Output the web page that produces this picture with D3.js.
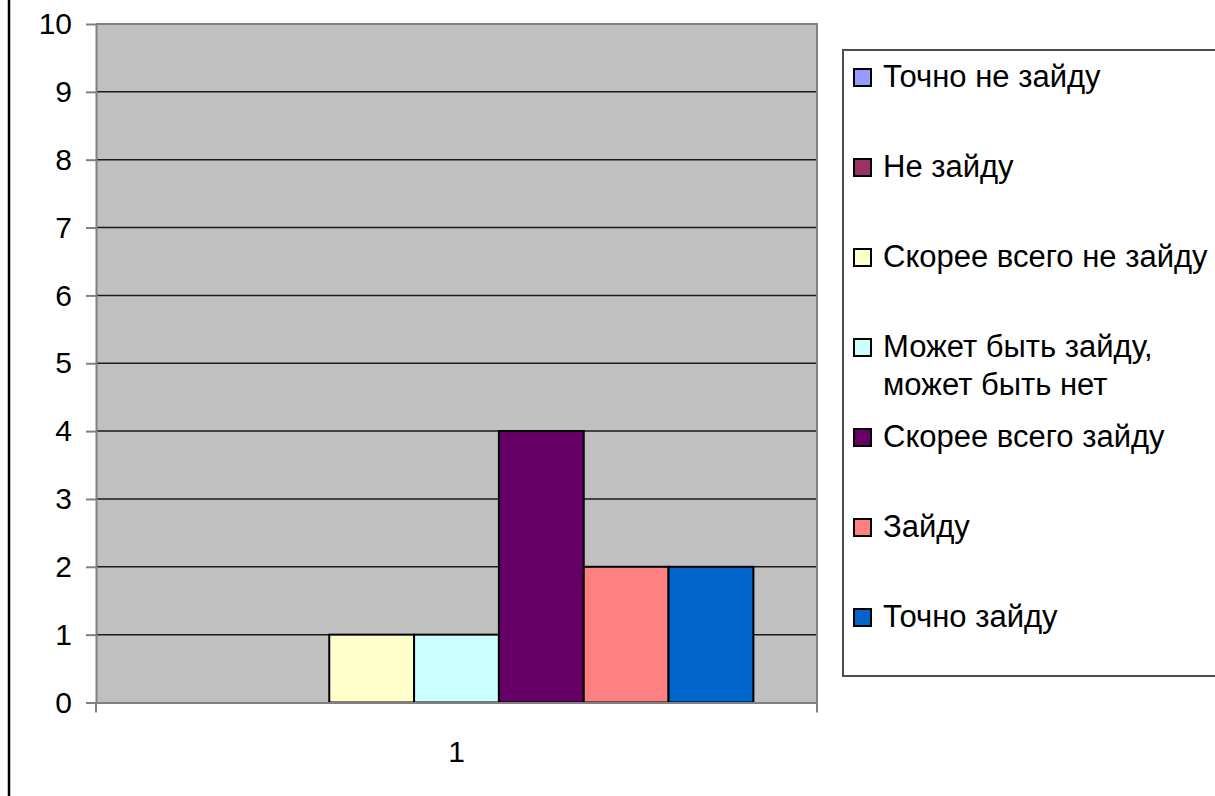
<!DOCTYPE html>
<html>
<head>
<meta charset="utf-8">
<script src="https://cdnjs.cloudflare.com/ajax/libs/d3/7.8.5/d3.min.js"></script>
<style>
    body { margin: 0; background: #fff; overflow: hidden; }
    svg { display: block; font-family: "Liberation Sans", Arial, sans-serif; }
    .axis text { font-size: 30px; fill: #000; }
    .axis path, .axis line { stroke: #808080; stroke-width: 2px; }
    .legend text { font-size: 31px; fill: #000; }
</style>
</head>
<body>
<div id="chart"></div>
<script>
// Data
var categories = ["1"];
var seriesNames = [
    "Точно не зайду",
    "Не зайду",
    "Скорее всего не зайду",
    "Может быть зайду,|может быть нет",
    "Скорее всего зайду",
    "Зайду",
    "Точно зайду"
];
var seriesValues = [0, 0, 1, 1, 4, 2, 2];
var seriesColors = ["#9999FF", "#993366", "#FFFFCC", "#CCFFFF", "#660066", "#FF8080", "#0066CC"];
var yTicks = [0, 1, 2, 3, 4, 5, 6, 7, 8, 9, 10];

var width = 1215, height = 796;
var plot = {left: 96, top: 24, right: 817, bottom: 702.5};

var svg = d3.select("#chart").append("svg")
    .attr("width", width)
    .attr("height", height);

// chart area border (only left edge shows)
svg.append("line")
    .attr("x1", 9).attr("x2", 9)
    .attr("y1", 0).attr("y2", height)
    .style("stroke", "#000")
    .style("stroke-width", 2.5);

// Scales (Excel gap width 150%)
var gap = 1.5 / (seriesNames.length + 1.5);
var x0 = d3.scaleBand().domain(categories).range([plot.left, plot.right])
    .paddingInner(gap).paddingOuter(gap / 2);
var x1 = d3.scaleBand().domain(d3.range(seriesNames.length)).range([0, x0.bandwidth()]);
var y = d3.scaleLinear().domain([0, 10]).range([plot.bottom, plot.top]);

// Plot area
svg.append("rect")
    .attr("x", plot.left).attr("y", plot.top)
    .attr("width", plot.right - plot.left)
    .attr("height", plot.bottom - plot.top)
    .style("fill", "#C0C0C0");

// gridlines
svg.append("g").selectAll("line")
    .data(yTicks.slice(1))
    .enter().append("line")
    .attr("x1", plot.left).attr("x2", plot.right)
    .attr("y1", function (d) { return y(d); })
    .attr("y2", function (d) { return y(d); })
    .style("stroke", "#1a1a1a")
    .style("stroke-width", 1.5);

// right + top border of plot area
svg.append("path")
    .attr("d", "M" + plot.left + "," + plot.top + "H" + plot.right + "V" + plot.bottom)
    .style("fill", "none")
    .style("stroke", "#808080")
    .style("stroke-width", 2);

// Bars
svg.append("g").selectAll("rect")
    .data(seriesValues)
    .enter().append("rect")
    .attr("x", function (d, i) { return x0(categories[0]) + x1(i); })
    .attr("y", function (d) { return y(d); })
    .attr("width", x1.bandwidth())
    .attr("height", function (d) { return y(0) - y(d); })
    .style("fill", function (d, i) { return seriesColors[i]; })
    .style("stroke", function (d) { return d > 0 ? "#000" : "none"; })
    .style("stroke-width", 2);

// Axes
var yAxis = d3.axisLeft(y).tickValues(yTicks).tickSize(10).tickPadding(14).tickSizeOuter(0);
svg.append("g")
    .attr("class", "y axis")
    .attr("transform", "translate(" + plot.left + ",0)")
    .call(yAxis);

var xAxis = d3.axisBottom(x0).tickSize(0).tickPadding(38).tickSizeOuter(0);
var xg = svg.append("g")
    .attr("class", "x axis")
    .attr("transform", "translate(0," + plot.bottom + ")")
    .call(xAxis);
// category boundary ticks
xg.selectAll("line.edge")
    .data(x0.range())
    .enter().append("line")
    .attr("class", "edge")
    .attr("x1", function (d) { return d; }).attr("x2", function (d) { return d; })
    .attr("y1", 0).attr("y2", 10);

// Legend
var legend = svg.append("g").attr("class", "legend");
legend.append("rect")
    .attr("x", 843).attr("y", 50)
    .attr("width", 420).attr("height", 626)
    .style("fill", "#fff")
    .style("stroke", "#4d4d4d")
    .style("stroke-width", 2);

var items = legend.selectAll("g.item")
    .data(seriesNames)
    .enter().append("g")
    .attr("class", "item")
    .attr("transform", function (d, i) { return "translate(854," + (87 + i * 90) + ")"; });

items.append("rect")
    .attr("x", 0).attr("y", -18)
    .attr("width", 17).attr("height", 17)
    .style("fill", function (d, i) { return seriesColors[i]; })
    .style("stroke", "#000")
    .style("stroke-width", 2);

items.append("text")
    .attr("x", 29)
    .each(function (d) {
        var t = d3.select(this);
        d.split("|").forEach(function (line, k) {
            t.append("tspan").attr("x", 29).attr("y", k * 38).text(line);
        });
    });
</script>
</body>
</html>
